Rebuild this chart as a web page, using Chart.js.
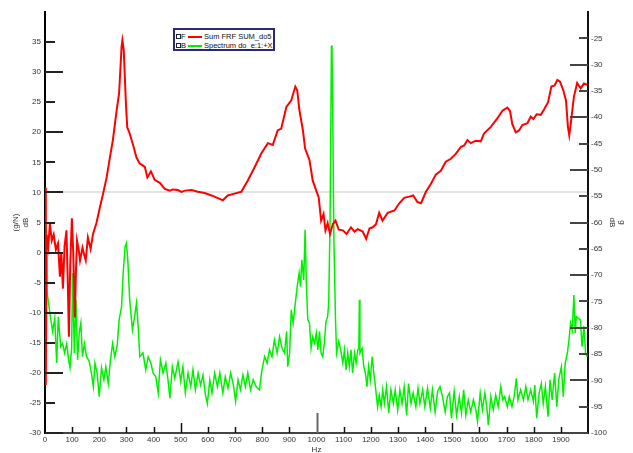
<!DOCTYPE html>
<html>
<head>
<meta charset="utf-8">
<script src="https://cdn.jsdelivr.net/npm/chart.js@4/dist/chart.umd.min.js"></script>
<style>
  html, body { margin: 0; padding: 0; background: #fff; }
  #wrap { position: relative; width: 633px; height: 453px; }
  #legend {
    position: absolute; left: 173px; top: 28px; width: 98px; height: 19px;
    border: 2px solid #2b2b6b; background: #fff;
    font: 7.5px "Liberation Sans", Arial, sans-serif; color: #111;
    -webkit-font-smoothing: antialiased;
  }
  .row { position: absolute; left: 0; height: 9px; width: 98px; line-height: 9px; }
  .box { position: absolute; left: 1px; top: 2px; width: 3px; height: 3px; border: 1px solid #222; }
  .tag { position: absolute; left: 6px; top: 0; }
  .swatch { position: absolute; left: 13px; top: 4px; width: 14px; height: 2px; }
  .name { position: absolute; left: 29px; top: 0; white-space: nowrap; }
</style>
</head>
<body>
<div id="wrap">
  <canvas id="myChart" width="633" height="453"></canvas>
  <div id="legend">
    <div class="row" style="top:2px"><span class="box"></span><span class="tag">F</span><span class="swatch" style="background:#ff0000"></span><span class="name">Sum FRF SUM_do5</span></div>
    <div class="row" style="top:11px"><span class="box"></span><span class="tag">B</span><span class="swatch" style="background:#00f000"></span><span class="name">Spectrum do_e:1:+X</span></div>
  </div>
</div>
<script>
// FRF sum, dB (g/N), left axis
let frfHz = [0, 3, 6, 12, 18, 25, 32, 40, 48, 55, 60, 66, 72, 79, 84, 88, 93, 99, 104, 110,
  114, 118, 124, 129, 138, 145, 150, 158, 168, 177, 190, 202, 214, 227, 239, 250, 264, 273, 282, 285,
  290, 298, 303, 312, 325, 337, 349, 360, 368, 377, 390, 404, 423, 441, 460, 471, 489, 503, 515, 540,
  563, 588, 613, 637, 655, 673, 698, 723, 747, 772, 797, 821, 839, 857, 870, 889, 907, 922, 929, 937,
  950, 958, 974, 986, 999, 1008, 1017, 1026, 1033, 1041, 1050, 1060, 1070, 1082, 1097, 1111, 1127, 1140, 1152, 1170,
  1183, 1195, 1207, 1219, 1231, 1243, 1262, 1287, 1305, 1323, 1342, 1356, 1372, 1385, 1403, 1421, 1440, 1458, 1476, 1495,
  1513, 1532, 1544, 1556, 1568, 1587, 1605, 1617, 1642, 1666, 1685, 1703, 1713, 1721, 1734, 1746, 1758, 1777, 1789, 1799,
  1811, 1826, 1838, 1853, 1865, 1877, 1887, 1897, 1909, 1919, 1926, 1931, 1938, 1948, 1960, 1973, 1985, 1997];
let frfDb = [10.8, -22, 3, 1, 4.8, 2, 3, 0.5, 1.5, -4, 0, -6, 1, 3.7, -5, -14, -2, 5.7, 0, -10.8,
  -3, 2, 0.5, -1.3, 0.8, -0.5, -1.3, 2.5, 0.6, 3.1, 5, 7.5, 9.8, 12.5, 15.8, 18.7, 23.7, 26.5, 34.2, 35.3,
  33.7, 24.8, 20.8, 19.8, 17.8, 15.8, 14.8, 14.5, 14.2, 12.5, 13.5, 12.1, 11.6, 10.6, 10.3, 10.5, 10.4, 10.1, 10.3, 10.4,
  10.1, 9.9, 9.5, 9.05, 8.7, 9.5, 9.8, 10.1, 12, 14.2, 16.5, 18.2, 17.9, 20.3, 20.6, 24.2, 25.3, 27.6, 27, 23.7,
  20.3, 17.3, 15.4, 12, 10.3, 9.2, 5.3, 6.4, 3.7, 4.9, 3.1, 4.7, 5.3, 3.8, 3.7, 3.1, 4.2, 3.5, 3.9, 3.5,
  2.3, 4, 4.2, 4.7, 6.6, 5.3, 6.6, 7, 8.2, 9.1, 9.3, 9.5, 8.4, 8.2, 10.1, 11.4, 13, 13.6, 15.1, 15.6,
  16.4, 17.6, 17.8, 18.7, 18.2, 18.6, 18.5, 19.8, 20.9, 22.3, 23.6, 24.1, 23.5, 21.4, 20, 20.3, 21.2, 21.5, 22.6, 22.2,
  23, 22.9, 23.8, 25, 27.6, 27.8, 28.7, 28.4, 27, 25.3, 20.9, 19.5, 22, 25.9, 28.2, 27.3, 28.1, 27.9];

// response spectrum, dB g, right axis
let specHz = [0, 4, 8, 18, 28, 36, 43, 49, 58, 65, 72, 80, 87, 92, 98, 102, 108, 114, 120, 126,
  132, 138, 145, 153, 163, 171, 178, 184, 192, 200, 208, 217, 224, 233, 241, 249, 257, 266, 273, 282,
  288, 295, 300, 305, 312, 322, 330, 337, 344, 349, 361, 371, 380, 390, 398, 408, 417, 425, 435, 445,
  453, 460, 469, 478, 490, 500, 508, 517, 527, 537, 545, 554, 564, 573, 582, 591, 598, 607, 615, 625,
  635, 644, 655, 664, 674, 684, 694, 702, 711, 720, 729, 738, 747, 757, 767, 778, 790, 799, 809, 818,
  827, 836, 845, 855, 864, 873, 882, 890, 894, 901, 907, 914, 922, 929, 936, 941, 946, 953, 958, 963,
  968, 974, 980, 986, 993, 999, 1005, 1011, 1017, 1023, 1029, 1035, 1041, 1045, 1050, 1055, 1057, 1060, 1064, 1070,
  1074, 1082, 1089, 1097, 1103, 1109, 1115, 1121, 1127, 1133, 1140, 1146, 1152, 1156, 1158, 1160, 1168, 1174, 1180, 1186,
  1192, 1198, 1205, 1211, 1217, 1225, 1231, 1238, 1244, 1250, 1258, 1266, 1274, 1283, 1290, 1299, 1307, 1315, 1323, 1332,
  1339, 1348, 1356, 1366, 1374, 1381, 1391, 1399, 1409, 1419, 1427, 1437, 1446, 1455, 1464, 1474, 1482, 1490, 1497, 1507,
  1516, 1526, 1534, 1542, 1550, 1559, 1568, 1578, 1587, 1593, 1603, 1611, 1620, 1627, 1633, 1642, 1651, 1660, 1669, 1679,
  1686, 1693, 1703, 1710, 1720, 1728, 1736, 1742, 1752, 1762, 1771, 1779, 1789, 1799, 1804, 1811, 1820, 1828, 1835, 1843,
  1853, 1860, 1868, 1877, 1885, 1893, 1902, 1909, 1916, 1924, 1930, 1936, 1942, 1948, 1953, 1957, 1965, 1972, 1978, 1985,
  1991, 1997];
let specDb = [-59.5, -61.4, -73.4, -77.2, -80.7, -78.2, -86.7, -77.9, -83.6, -83, -84.8, -83, -86.1, -87.6, -84, -69.6, -84.8, -74.7, -86.1, -81,
  -79.1, -85.5, -83, -85.5, -86.4, -88.6, -91.2, -86.7, -88.6, -93.1, -87.6, -89.9, -87.4, -90.6, -86.1, -83, -85.5, -83.3, -78.5, -76,
  -69.6, -64.6, -63.9, -67.1, -74.7, -80.4, -77.9, -75.3, -80.4, -85.5, -84.8, -88, -85.5, -86.7, -88.6, -89.3, -92.4, -86.1, -88.6, -86.7,
  -89.9, -93.4, -87.4, -89.6, -86.5, -90.2, -87.4, -92.4, -88.6, -91.2, -88, -91.8, -88.6, -90.9, -89, -92.8, -94.4, -89.9, -92.4, -88.6,
  -91.2, -88.6, -92.4, -89.3, -91.5, -88.6, -90.9, -94, -89.9, -91.8, -89, -91.2, -88.6, -91.8, -89.9, -91.2, -91.8, -88, -85.5, -86.7,
  -84.2, -85.5, -82.3, -84.8, -81.7, -83.9, -84.8, -80.7, -87.4, -84.8, -76.6, -79.1, -75.3, -72.2, -69.6, -72.2, -67.1, -70.9, -61.4, -72.2,
  -78.5, -79.1, -83.9, -81.7, -82.9, -81, -84.2, -80.7, -84.8, -85.5, -82.9, -78.8, -77.9, -75.3, -59.6, -26.6, -26.3, -40.5, -63, -78.5,
  -84.8, -82.6, -84.2, -86.7, -84.2, -88, -84.8, -87.4, -84.2, -88.6, -84.8, -86.7, -84.2, -84, -74.7, -84.8, -83.9, -87.4, -88.6, -91.2,
  -87.4, -89.9, -85.5, -88.6, -91.2, -95, -92.8, -95, -91.8, -94.4, -91.2, -96.2, -91.8, -94.4, -91.8, -95.6, -91.8, -94.4, -91.2, -96.6,
  -90.6, -94.4, -92.4, -95, -91.5, -94.4, -91.8, -95, -91.5, -95.3, -91.8, -96, -92.1, -91.2, -93.1, -96, -93.1, -92.4, -97.2, -92.1,
  -96.6, -93.1, -96.2, -91.8, -96.6, -93.7, -96, -93.7, -95.6, -97.8, -92.4, -95.6, -92.4, -95, -98.5, -93.1, -95.6, -92.8, -95, -91.2,
  -93.7, -93.1, -95, -93.1, -95, -93.1, -89.6, -93.7, -91.8, -93.7, -91.2, -93.7, -91.8, -94, -90.9, -97.2, -92.4, -90.6, -94.4, -91.2,
  -96.9, -89.9, -93.7, -88.6, -95, -89.6, -87.4, -93.1, -86.7, -84.8, -82.3, -79.1, -80.4, -73.8, -81, -77.9, -78.2, -78.5, -83.6, -79.7,
  -84.8, -85.5];

let leftTitle = ['(g/N)', 'dB'];
let rightTitle = ['g', 'dB'];

function toPoints(xs, ys) {
  let pts = [];
  for (let i = 0; i < xs.length; i++) pts.push({x: xs[i], y: ys[i]});
  return pts;
}

const tickFont = {family: '"Liberation Sans", Arial, sans-serif', size: 8};

// short tick marks drawn inward from each axis line
const innerTicks = {
  id: 'innerTicks',
  afterDatasetsDraw(chart) {
    const ctx = chart.ctx;
    const area = chart.chartArea;
    const yl = chart.scales.y, yr = chart.scales.y2, xs = chart.scales.x;
    ctx.save();
    ctx.lineWidth = 2;
    ctx.strokeStyle = '#222';
    for (let v = -30; v <= 35; v += 5) {
      const y = Math.round(yl.getPixelForValue(v));
      const len = v % 10 === 0 ? 18 : 10;
      ctx.beginPath(); ctx.moveTo(area.left, y); ctx.lineTo(area.left + len, y); ctx.stroke();
    }
    ctx.strokeStyle = '#444';
    for (let v = -100; v <= -25; v += 5) {
      const y = Math.round(yr.getPixelForValue(v));
      const len = v % 10 === 0 ? 18 : 9;
      ctx.beginPath(); ctx.moveTo(area.right, y); ctx.lineTo(area.right - len, y); ctx.stroke();
    }
    for (let v = 100; v <= 1900; v += 100) {
      const x = Math.round(xs.getPixelForValue(v)) + 0.5;
      let len = 6;
      ctx.lineWidth = 1.5;
      ctx.strokeStyle = '#111';
      if (v === 500 || v === 1500) len = 10;
      if (v === 1000) { len = 20; ctx.strokeStyle = '#666'; ctx.lineWidth = 2; }
      ctx.beginPath(); ctx.moveTo(x, area.bottom); ctx.lineTo(x, area.bottom - len); ctx.stroke();
    }
    ctx.restore();
  }
};

let ctx = document.getElementById('myChart').getContext('2d');
let myChart = new Chart(ctx, {
  type: 'line',
  data: {
    datasets: [{
      label: 'Sum FRF SUM_do5',
      data: toPoints(frfHz, frfDb),
      borderColor: '#ff0000',
      borderWidth: 2,
      pointRadius: 0,
      yAxisID: 'y'
    }, {
      label: 'Spectrum do_e:1:+X',
      data: toPoints(specHz, specDb),
      borderColor: '#00f000',
      borderWidth: 1.5,
      pointRadius: 0,
      yAxisID: 'y2'
    }]
  },
  options: {
    responsive: false,
    animation: false,
    devicePixelRatio: 1,
    layout: {padding: {top: 12, left: 0, right: 0, bottom: 0}},
    plugins: {legend: {display: false}, tooltip: {enabled: false}},
    scales: {
      x: {
        type: 'linear', position: 'bottom', min: 0, max: 2000,
        afterFit: s => { s.height = 20; },
        grid: {display: false, drawTicks: false},
        border: {display: true, color: '#444', width: 2},
        ticks: {stepSize: 100, padding: 2, maxRotation: 0, autoSkip: false, color: '#333', font: tickFont,
          callback: v => v === 2000 ? '' : v},
        title: {display: true, text: 'Hz', color: '#333', font: tickFont, padding: {top: 0, bottom: -2}}
      },
      y: {
        type: 'linear', position: 'left', min: -30, max: 40,
        afterFit: s => { s.width = 45; },
        grid: {drawTicks: false, lineWidth: 2, color: c => c.tick && c.tick.value === 10 ? '#e4e4e4' : 'rgba(0,0,0,0)'},
        border: {display: true, color: '#000', width: 2},
        ticks: {stepSize: 5, padding: 4, color: '#333', font: tickFont, callback: v => v === 40 ? '' : v},
        title: {display: true, text: leftTitle, color: '#333', font: tickFont, padding: {top: 11, bottom: 0}}
      },
      y2: {
        type: 'linear', position: 'right', min: -100, max: -20,
        afterFit: s => { s.width = 45; },
        grid: {display: false, drawTicks: false},
        border: {display: true, color: '#111', width: 2},
        ticks: {stepSize: 5, padding: 3, color: '#333', font: tickFont, callback: v => v === -20 ? '' : v},
        title: {display: true, text: rightTitle, color: '#333', font: tickFont, padding: {top: 6, bottom: 0}}
      }
    }
  },
  plugins: [innerTicks]
});
</script>
</body>
</html>
